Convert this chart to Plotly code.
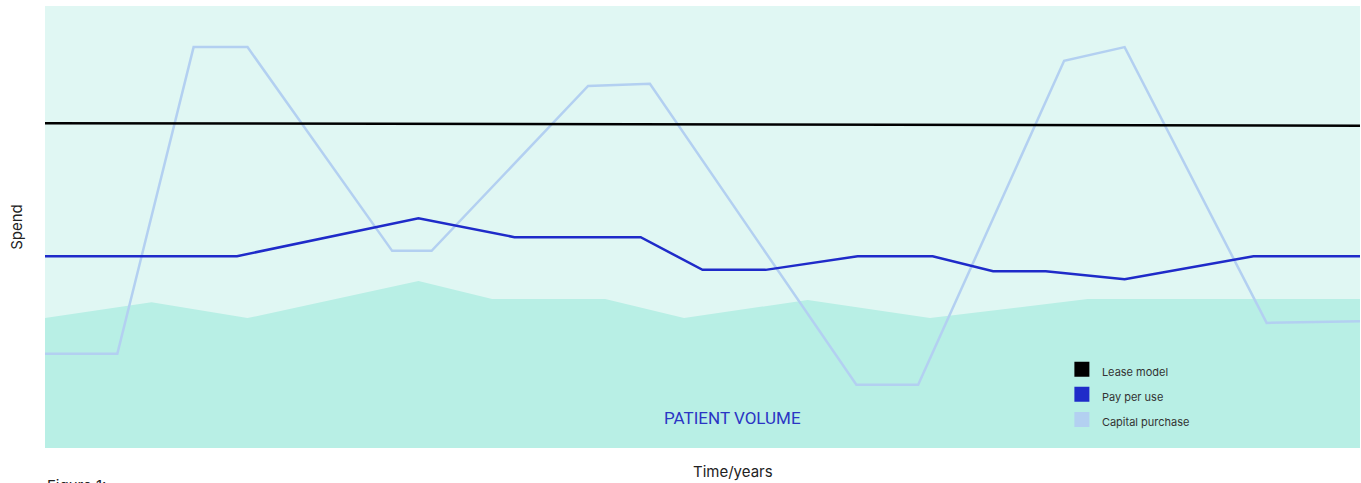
import plotly.graph_objects as go

# Data (time axis 0-100, spend axis 0-100, arbitrary units)
lease_x = [0, 100]
lease_y = [73.5, 72.9]

ppu_x = [0, 14.6, 28.4, 35.7, 45.3, 50.0, 54.8, 61.8, 67.5, 72.1, 76.1, 82.1, 91.9, 100]
ppu_y = [43.4, 43.4, 52.0, 47.7, 47.7, 40.3, 40.3, 43.4, 43.4, 40.0, 40.0, 38.2, 43.4, 43.4]

cap_x = [0, 5.5, 11.3, 15.4, 26.4, 29.4, 41.3, 46.0, 61.7, 66.4, 77.5, 82.1, 92.9, 100]
cap_y = [21.3, 21.3, 90.7, 90.7, 44.6, 44.6, 81.9, 82.4, 14.3, 14.3, 87.6, 90.7, 28.3, 28.7]

vol_x = [0, 8.1, 15.4, 28.4, 34.0, 42.6, 48.6, 58.0, 67.3, 79.3, 100]
vol_y = [29.4, 33.0, 29.4, 37.8, 33.7, 33.7, 29.4, 33.5, 29.4, 33.7, 33.7]

legend_names = ["Lease model", "Pay per use", "Capital purchase"]
legend_colors = ["#000000", "#1f2bc9", "#b3d0f1"]

fig = go.Figure()

fig.add_trace(go.Scatter(x=vol_x, y=vol_y, mode="lines", fill="tozeroy",
                         fillcolor="#b8efe5", line=dict(width=0, color="#b8efe5"),
                         showlegend=False, hoverinfo="skip"))
fig.add_trace(go.Scatter(x=cap_x, y=cap_y, mode="lines",
                         line=dict(color=legend_colors[2], width=2.5), showlegend=False))
fig.add_trace(go.Scatter(x=lease_x, y=lease_y, mode="lines",
                         line=dict(color=legend_colors[0], width=2.5), showlegend=False))
fig.add_trace(go.Scatter(x=ppu_x, y=ppu_y, mode="lines",
                         line=dict(color=legend_colors[1], width=2.5), showlegend=False))

for name, col in zip(legend_names, legend_colors):
    fig.add_trace(go.Scatter(x=[None], y=[None], mode="markers",
                             marker=dict(symbol="square", size=15, color=col),
                             name=f'<span style="font-size:11px">{name}</span>'))

fig.add_annotation(x=52.3, y=6.8, xref="x", yref="y", text="PATIENT VOLUME",
                   showarrow=False,
                   font=dict(family="Roboto, sans-serif", size=17, color="#2b35c4"))
fig.add_annotation(x=0.523, y=-0.027, xref="paper", yref="paper", text="Time/years",
                   showarrow=False, xanchor="center", yanchor="top",
                   font=dict(family="Inter", size=15, color="#222222"))
fig.add_annotation(x=0, y=-0.058, xref="paper", yref="paper", text="Figure 1:",
                   showarrow=False, xanchor="left", yanchor="top",
                   font=dict(family="Inter", size=15, color="#222222"))

fig.update_layout(
    width=1361, height=483,
    margin=dict(l=45, r=1, t=6, b=35),
    paper_bgcolor="white",
    plot_bgcolor="#e0f7f3",
    font=dict(family="Inter", size=15, color="#222222"),
    legend=dict(x=0.7733, y=0.218, xanchor="left", yanchor="top",
                bgcolor="rgba(0,0,0,0)", font=dict(family="Inter", size=17, color="#333333"),
                itemwidth=30),
    showlegend=True,
)
fig.update_xaxes(range=[0, 100], showticklabels=False, showgrid=False, zeroline=False,
                 ticks="")
fig.update_yaxes(range=[0, 100], showticklabels=False, showgrid=False, zeroline=False,
                 ticks="", title=dict(text="Spend", standoff=17,
                                      font=dict(family="Inter", size=15, color="#222222")))

fig.write_html("out.html")
